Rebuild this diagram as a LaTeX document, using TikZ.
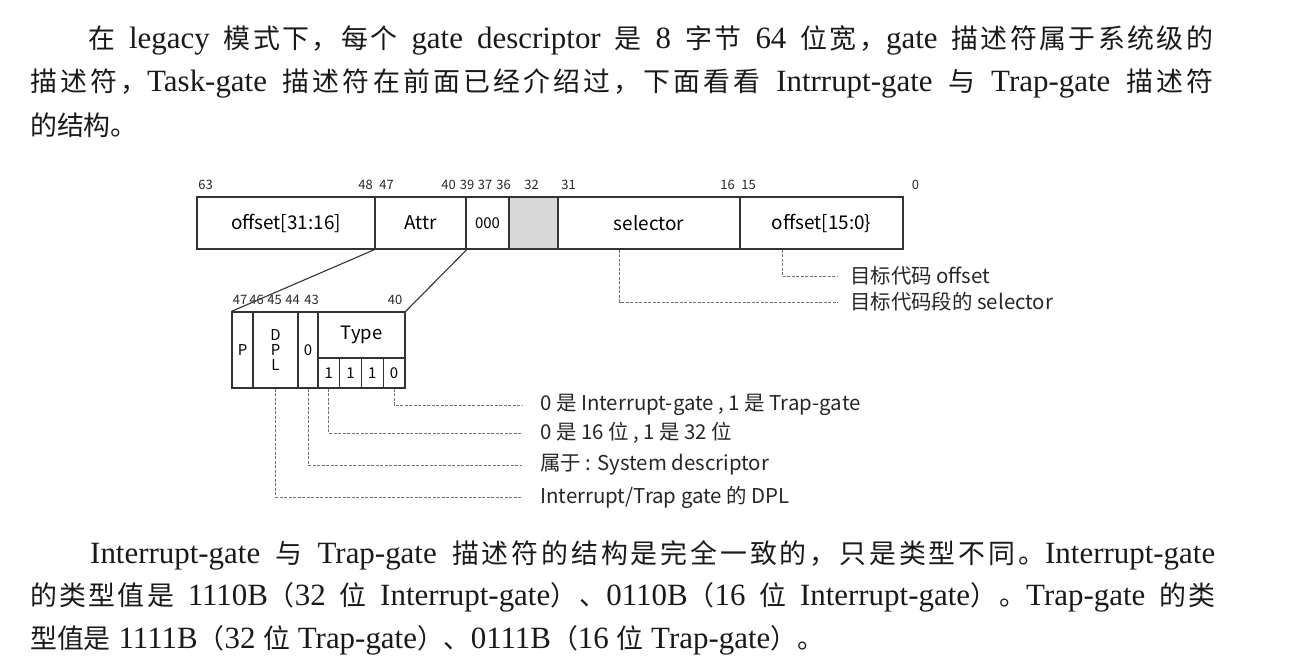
\documentclass[tikz,border=0pt]{standalone}
\usepackage{fontspec}
\setmainfont{Liberation Serif}[Scale=1.15]
\newfontfamily\cjk{Noto Sans CJK SC}
\usetikzlibrary{calc}

% CJK characters get a class of their own, so that justified lines can stretch between them
\chardef\cjkclass=7
\newcount\cjkc
\newcommand{\cjkrange}[2]{\cjkc=#1
  \loop\XeTeXcharclass\cjkc=\cjkclass\advance\cjkc by 1 \ifnum\cjkc<#2\repeat}
\cjkrange{"4E00}{"A000}
\cjkrange{"3000}{"3040}
\cjkrange{"FF00}{"FFF0}
\XeTeXinterchartoks\cjkclass\cjkclass={\hskip0pt plus 1.5pt\relax}
\XeTeXinterchartokenstate=1

\newcommand{\zh}[1]{{\cjk #1}}
\newcommand{\jline}[2]{\makebox[#1bp][s]{#2}}

\tikzset{
  field/.style={draw=black!80, line width=1.4bp, minimum height=52bp, inner sep=0pt,
    font=\cjk\fontsize{19}{22}\selectfont},
  bitno/.style={inner sep=0pt, text=black!85, font=\cjk\fontsize{13}{15}\selectfont},
  cell/.style={draw=black!80, line width=1.2bp, inner sep=0pt, minimum height=76bp,
    font=\cjk\fontsize{15}{15}\selectfont},
  link/.style={draw=black!80, line width=1.1bp},
  leader/.style={draw=black!55, line width=0.8bp, dash pattern=on 3bp off 1.5bp},
  note/.style={anchor=west, inner sep=0pt, text=black!85, font=\cjk\fontsize{20.5}{24}\selectfont},
  textline/.style={anchor=west, inner sep=0pt, text=black!90, font=\fontsize{27}{31}\selectfont},
}

\begin{document}
\begin{tikzpicture}[x=1bp, y=-1bp]
  \useasboundingbox (0,0) rectangle (1304,668);

  % text above the figure
  \node[textline] (top1) at (88,40) {\jline{1125}{\zh{在} legacy \zh{模式下，每个} gate descriptor \zh{是} 8 \zh{字节} 64 \zh{位宽，}gate \zh{描述符属于系统级的}}};
  \node[textline] (top2) at (30,83) {\jline{1183}{\zh{描述符，}Task-gate \zh{描述符在前面已经介绍过，下面看看} Intrrupt-gate \zh{与} Trap-gate \zh{描述符}}};
  \node[textline] (top3) at (30,125) {\zh{的结构。}};

  % the 64-bit gate descriptor
  \node[field, minimum width=178bp] (offhi) at (286,223) {offset[31:16]};
  \node[field, minimum width=91bp] (attr) at (420.5,223) {Attr};
  \node[field, minimum width=43bp, font=\cjk\fontsize{15}{18}\selectfont] (rsv) at (487.5,223) {000};
  \node[field, minimum width=49bp, fill=black!15] (ist) at (533.5,223) {};
  \node[field, minimum width=182bp] (sel) at (649,223) {selector};
  \node[field, minimum width=163bp] (offlo) at (821.5,223) {offset[15:0\}};
  \foreach \l/\x in {63/205.5, 48/365.5, 47/386.5, 40/448.5, 39/467, 37/485, 36/503.5,
                     32/531.5, 31/568.5, 16/727.5, 15/748.5, 0/915.5}
    \node[bitno] (b\l) at (\x,185) {\l};

  % Attr byte
  \node[cell, minimum width=21bp] (p) at (242.5,350) {P};
  \node[cell, minimum width=45bp, align=center] (dpl) at (275.5,350) {D\\P\\L};
  \node[cell, minimum width=20bp] (s) at (308,350) {0};
  \node[cell, minimum width=87bp, minimum height=46bp, font=\cjk\fontsize{18.5}{18}\selectfont] (type) at (361.5,335) {Type};
  \foreach \v [count=\i] in {1,1,1,0}
    \node[cell, minimum width=21.75bp, minimum height=30bp] (t\i) at (318+21.75*\i-10.875,373) {\v};
  \foreach \l/\x in {47/240, 46/256.5, 45/274.5, 44/292.5, 43/311.5, 40/395}
    \node[bitno] (a\l) at (\x,300) {\l};

  \draw[link] (attr.south west) -- (p.north west);
  \draw[link] (attr.south east) -- (type.north east);

  % notes
  \node[note] (noff) at (850,276) {目标代码 offset};
  \node[note] (nsel) at (850,302) {目标代码段的 selector};
  \node[note] (ntrap) at (540,405) {0 是 Interrupt-gate , 1 是 Trap-gate};
  \node[note] (nsize) at (540,433) {0 是 16 位 , 1 是 32 位};
  \node[note] (nsys) at (540,465) {属于 : System descriptor};
  \node[note] (ndpl) at (540,497) {Interrupt/Trap gate 的 DPL};

  \draw[leader] ($(offlo.south west)!0.26!(offlo.south east)$) |- ([xshift=-12bp]noff.west);
  \draw[leader] ($(sel.south west)!0.34!(sel.south east)$) |- ([xshift=-12bp]nsel.west);
  \draw[leader] (t4.south) |- ([xshift=-18bp]ntrap.west);
  \draw[leader] (t1.south) |- ([xshift=-18bp]nsize.west);
  \draw[leader] (s.south) |- ([xshift=-18bp]nsys.west);
  \draw[leader] (dpl.south) |- ([xshift=-18bp]ndpl.west);

  % text below the figure
  \node[textline] (bot1) at (90,555) {\jline{1125}{Interrupt-gate \zh{与} Trap-gate \zh{描述符的结构是完全一致的，只是类型不同。}Interrupt-gate}};
  \node[textline] (bot2) at (30,597) {\jline{1185}{\zh{的类型值是} 1110B\zh{（}32 \zh{位} Interrupt-gate\zh{）、}0110B\zh{（}16 \zh{位} Interrupt-gate\zh{）。}Trap-gate \zh{的类}}};
  \node[textline] (bot3) at (30,640) {\zh{型值是} 1111B\zh{（}32 \zh{位} Trap-gate\zh{）、}0111B\zh{（}16 \zh{位} Trap-gate\zh{）。}};
\end{tikzpicture}
\end{document}
